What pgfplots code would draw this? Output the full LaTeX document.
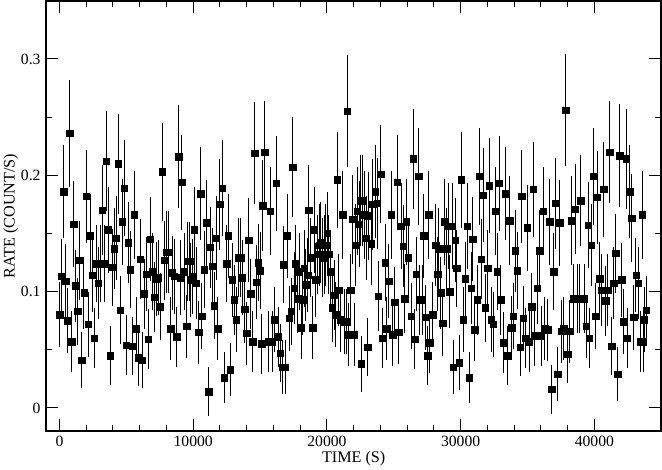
\documentclass[border=0pt]{standalone}
\usepackage{fontspec}
\setmainfont{Liberation Serif}
\usepackage{pgfplots}
\usepackage{pgfplotstable}
\pgfplotsset{compat=1.18}
\pgfplotstableread{
t v e
0 0.080 0.028
175 0.113 0.032
326 0.186 0.040
476 0.109 0.032
626 0.075 0.028
777 0.236 0.046
927 0.057 0.026
1078 0.158 0.037
1228 0.105 0.031
1378 0.083 0.029
1529 0.127 0.034
1679 0.041 0.024
1829 0.099 0.031
1980 0.182 0.040
2130 0.072 0.028
2280 0.148 0.036
2431 0.114 0.032
2581 0.060 0.026
2731 0.124 0.033
2882 0.107 0.031
3032 0.124 0.033
3183 0.170 0.039
3333 0.124 0.033
3483 0.212 0.043
3634 0.153 0.037
3784 0.045 0.025
3934 0.121 0.033
4085 0.137 0.035
4235 0.146 0.036
4385 0.210 0.043
4536 0.084 0.029
4686 0.160 0.037
4837 0.189 0.041
4987 0.054 0.026
5137 0.142 0.035
5288 0.119 0.033
5438 0.053 0.025
5588 0.166 0.038
5739 0.068 0.027
5889 0.043 0.024
6039 0.128 0.034
6190 0.041 0.024
6340 0.098 0.030
6490 0.115 0.032
6641 0.059 0.026
6791 0.145 0.036
6941 0.117 0.033
7092 0.095 0.030
7242 0.111 0.032
7369 0.112 0.032
7519 0.087 0.029
7695 0.203 0.042
7870 0.127 0.034
8020 0.134 0.035
8171 0.134 0.035
8321 0.068 0.027
8421 0.116 0.032
8572 0.113 0.032
8747 0.061 0.026
8897 0.216 0.044
9048 0.112 0.032
9148 0.194 0.041
9323 0.117 0.033
9499 0.070 0.027
9574 0.126 0.034
9749 0.126 0.034
9825 0.110 0.032
9950 0.113 0.032
10075 0.153 0.037
10226 0.107 0.031
10401 0.065 0.027
10551 0.184 0.040
10652 0.079 0.028
10827 0.119 0.033
11002 0.159 0.037
11153 0.014 0.021
11278 0.138 0.035
11454 0.122 0.033
11579 0.088 0.029
11729 0.146 0.036
11829 0.068 0.027
11980 0.175 0.039
12155 0.189 0.041
12331 0.026 0.022
12506 0.124 0.033
12631 0.148 0.036
12782 0.033 0.023
12907 0.110 0.032
13082 0.093 0.030
13233 0.076 0.028
13358 0.129 0.034
13533 0.129 0.034
13659 0.112 0.032
13834 0.085 0.029
13985 0.064 0.027
14160 0.144 0.036
14310 0.098 0.030
14436 0.057 0.026
14586 0.219 0.044
14711 0.108 0.032
14862 0.125 0.033
15012 0.118 0.033
15137 0.055 0.026
15212 0.174 0.039
15338 0.220 0.044
15640 0.057 0.026
15765 0.169 0.038
15915 0.057 0.026
16066 0.076 0.028
16216 0.193 0.041
16366 0.061 0.026
16517 0.047 0.025
16642 0.035 0.023
16717 0.123 0.033
16893 0.035 0.023
17018 0.148 0.036
17168 0.077 0.028
17319 0.083 0.029
17444 0.207 0.043
17544 0.103 0.031
17669 0.124 0.033
17795 0.094 0.030
17920 0.117 0.033
18070 0.069 0.027
18171 0.093 0.030
18296 0.120 0.033
18421 0.106 0.031
18547 0.114 0.032
18647 0.170 0.039
18772 0.129 0.034
18922 0.069 0.027
19048 0.153 0.037
19173 0.110 0.032
19273 0.132 0.034
19424 0.140 0.035
19549 0.142 0.035
19674 0.129 0.034
19800 0.132 0.034
19925 0.140 0.035
20025 0.150 0.036
20150 0.132 0.034
20276 0.117 0.033
20401 0.086 0.029
20526 0.097 0.030
20652 0.080 0.028
20752 0.196 0.041
20877 0.101 0.031
21028 0.076 0.028
21178 0.166 0.038
21303 0.074 0.028
21429 0.074 0.028
21504 0.255 0.048
21629 0.063 0.027
21779 0.101 0.031
21930 0.162 0.038
22055 0.063 0.027
22155 0.140 0.035
22281 0.169 0.038
22406 0.158 0.037
22481 0.178 0.039
22556 0.038 0.024
22682 0.178 0.039
22832 0.166 0.038
22932 0.146 0.036
23032 0.052 0.025
23133 0.165 0.038
23309 0.141 0.035
23409 0.175 0.039
23610 0.186 0.040
23760 0.176 0.039
23830 0.096 0.030
24011 0.201 0.042
24186 0.060 0.026
24362 0.125 0.033
24487 0.068 0.027
24612 0.109 0.032
24788 0.166 0.038
24913 0.063 0.027
25063 0.091 0.030
25264 0.194 0.041
25364 0.065 0.027
25539 0.156 0.037
25715 0.139 0.035
25815 0.094 0.030
25940 0.160 0.037
26090 0.129 0.034
26316 0.079 0.028
26467 0.214 0.043
26567 0.059 0.026
26692 0.115 0.032
26868 0.199 0.042
26943 0.093 0.030
27118 0.093 0.030
27218 0.148 0.036
27344 0.078 0.028
27519 0.045 0.025
27619 0.166 0.038
27695 0.056 0.026
27920 0.080 0.028
28121 0.140 0.035
28271 0.115 0.032
28371 0.137 0.035
28497 0.099 0.031
28672 0.073 0.028
28797 0.160 0.037
28948 0.137 0.035
29073 0.156 0.037
29173 0.100 0.031
29349 0.156 0.037
29449 0.035 0.023
29574 0.144 0.036
29699 0.120 0.033
29875 0.039 0.024
30050 0.196 0.041
30201 0.076 0.028
30326 0.111 0.032
30501 0.156 0.037
30627 0.026 0.022
30777 0.103 0.031
30902 0.145 0.036
31052 0.067 0.027
31254 0.093 0.030
31380 0.199 0.042
31530 0.128 0.034
31680 0.183 0.040
31831 0.086 0.029
32006 0.120 0.033
32131 0.191 0.041
32282 0.076 0.028
32432 0.072 0.028
32607 0.169 0.038
32733 0.117 0.033
32883 0.193 0.041
33008 0.093 0.030
33209 0.056 0.026
33359 0.184 0.040
33510 0.045 0.025
33660 0.161 0.038
33810 0.069 0.027
33936 0.079 0.028
34086 0.135 0.035
34236 0.118 0.033
34437 0.052 0.025
34562 0.182 0.040
34687 0.077 0.028
34838 0.060 0.026
34988 0.155 0.037
35139 0.057 0.026
35314 0.087 0.029
35439 0.188 0.041
35514 0.062 0.026
35740 0.103 0.031
35890 0.135 0.035
36041 0.062 0.026
36166 0.169 0.038
36266 0.068 0.027
36517 0.067 0.027
36667 0.160 0.037
36818 0.016 0.021
36943 0.117 0.033
37118 0.176 0.039
37244 0.029 0.023
37394 0.159 0.037
37544 0.066 0.027
37720 0.068 0.027
37845 0.256 0.048
37995 0.046 0.025
38171 0.066 0.027
38321 0.161 0.038
38421 0.094 0.030
38571 0.171 0.039
38722 0.094 0.030
38872 0.094 0.030
38972 0.178 0.039
39224 0.094 0.030
39374 0.070 0.027
39525 0.157 0.037
39625 0.060 0.026
39775 0.140 0.035
39951 0.199 0.042
40101 0.079 0.028
40226 0.181 0.040
40402 0.111 0.032
40552 0.101 0.031
40703 0.188 0.041
40828 0.092 0.030
41003 0.101 0.031
41154 0.220 0.044
41304 0.053 0.025
41454 0.107 0.031
41605 0.133 0.034
41755 0.029 0.023
41906 0.217 0.044
42056 0.110 0.032
42206 0.074 0.028
42382 0.214 0.043
42457 0.060 0.026
42632 0.186 0.040
42783 0.163 0.038
42958 0.078 0.028
43108 0.114 0.032
43259 0.107 0.031
43409 0.057 0.026
43560 0.166 0.038
43635 0.057 0.026
43710 0.076 0.028
43886 0.084 0.029
}\lcdata
\begin{document}
\begin{tikzpicture}
\begin{axis}[
  width=606bp, height=424bp, scale only axis,
  xmin=-1000, xmax=45000, ymin=-0.02, ymax=0.35,
  xtick={0,10000,20000,30000,40000},
  minor x tick num=4,
  ytick={0,0.1,0.2,0.3},
  minor y tick num=1,
  tick align=inside,
  major tick length=12bp, minor tick length=6bp,
  axis line style={line width=1.5bp},
  every tick/.style={black, line width=1bp},
  scaled x ticks=false,
  /pgf/number format/assume math mode=true,
  ticklabel style={font=\fontsize{15.5}{16}\selectfont},
  xticklabel style={/pgf/number format/fixed, /pgf/number format/1000 sep={}, yshift=-1bp},
  yticklabel style={/pgf/number format/fixed, /pgf/number format/precision=1, xshift=-2bp},
  label style={font=\fontsize{16}{18}\selectfont},
  xlabel={TIME (S)}, ylabel={RATE (COUNT/S)},
  xlabel style={yshift=2bp},
  ylabel style={yshift=-4bp},
]
\addplot[only marks, mark=square*, mark size=3.2bp, black,
  error bars/.cd, y dir=both, y explicit, error mark=none,
  error bar style={line width=0.9bp, black}]
  table[x=t, y=v, y error=e]{\lcdata};
\end{axis}
\end{tikzpicture}
\end{document}
